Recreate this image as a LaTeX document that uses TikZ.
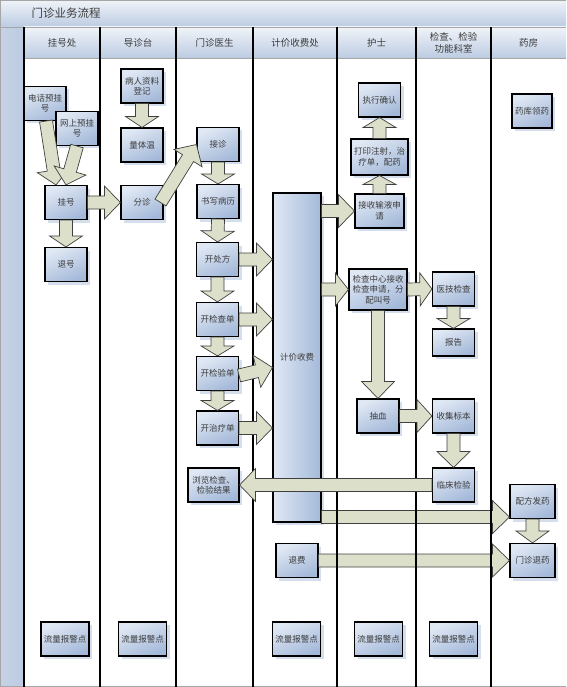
\documentclass[tikz,border=0pt]{standalone}
\usepackage{fontspec}
\setmainfont{Noto Sans CJK SC}
\usetikzlibrary{calc,shadows}

\definecolor{boxlight}{HTML}{E0E8F4}
\definecolor{boxdark}{HTML}{A4B9D9}
\definecolor{arrowfill}{HTML}{DCDFC9}
\definecolor{headlight}{HTML}{F0F4F9}
\definecolor{headdark}{HTML}{BCCBE2}
\definecolor{shadowblue}{HTML}{D5DEEC}
\definecolor{textgray}{HTML}{3C3C3C}

% block arrow: [head length]{from}{to}
\newcommand{\fatarrow}[3][15pt]{%
  \coordinate (fa-s) at (#2);
  \coordinate (fa-e) at (#3);
  \coordinate (fa-h) at ($(fa-e)!#1!(fa-s)$);
  \filldraw[fatarr] ($(fa-s)!6.5pt!90:(fa-e)$) -- ($(fa-h)!6.5pt!-90:(fa-s)$)
    -- ($(fa-h)!16.5pt!-90:(fa-s)$) -- (fa-e) -- ($(fa-h)!16.5pt!90:(fa-s)$)
    -- ($(fa-h)!6.5pt!90:(fa-s)$) -- ($(fa-s)!6.5pt!-90:(fa-e)$) -- cycle;}

\begin{document}
\begin{tikzpicture}[x=1pt,y=-1pt,
  procbox/.style={draw=black, line width=1.1pt, top color=boxlight, bottom color=boxdark,
    shading angle=25, minimum width=42pt, minimum height=34pt, inner sep=1pt, align=center,
    font=\fontsize{8.5}{10.5}\selectfont, text=textgray,
    drop shadow={shadow xshift=3pt, shadow yshift=-3pt, fill=shadowblue, opacity=1}},
  fatarr/.style={fill=arrowfill, draw=black!75, line width=0.7pt, line join=miter},
  lane/.style={draw=black, line width=1.3pt},
  headtext/.style={font=\fontsize{9.5}{11.5}\selectfont, text=textgray, align=center}]

\useasboundingbox (0,0) rectangle (566,687);

% title bar, strip and lane headers
\shade[top color=headlight, bottom color=headdark] (0,0) rectangle (566,27);
\node[anchor=west, font=\fontsize{11.5}{13}\selectfont, text=textgray] (title) at (28,13.5) {门诊业务流程};
\shade[left color=headdark!85, right color=headdark] (0,27) rectangle (24,687);
\shade[top color=headlight, bottom color=headdark] (24,27) rectangle (566,58);
\draw[gray!70, line width=0.6pt] (0,0.3) -- (566,0.3) (0,27) -- (566,27) (24,58) -- (566,58) (0,686.7) -- (566,686.7) (0.3,0) -- (0.3,687);

\node[headtext] (h-gh) at (62,43) {挂号处};
\node[headtext] (h-dz) at (138,43) {导诊台};
\node[headtext] (h-ys) at (214.5,43) {门诊医生};
\node[headtext] (h-sf) at (295,43) {计价收费处};
\node[headtext] (h-hs) at (376.5,43) {护士};
\node[headtext] (h-jc) at (453.5,43) {检查、检验\\功能科室};
\node[headtext] (h-yf) at (528.5,43) {药房};

% boxes
\node[procbox] (phone) at (45,103.5) {电话预挂\\号};
\node[procbox] (web) at (77,128.5) {网上预挂\\号};
\node[procbox] (gh) at (66,202.5) {挂号};
\node[procbox] (th) at (66,264.5) {退号};
\node[procbox] (djl) at (142,86) {病人资料\\登记};
\node[procbox] (tw) at (142,145) {量体温};
\node[procbox] (fz) at (142,202.5) {分诊};
\node[procbox] (jz) at (218,144.5) {接诊};
\node[procbox] (bl) at (218,201.5) {书写病历};
\node[procbox] (cf) at (217.5,259.5) {开处方};
\node[procbox] (jc) at (217.5,319.5) {开检查单};
\node[procbox] (jy) at (217.5,373.5) {开检验单};
\node[procbox] (zl) at (217.5,428) {开治疗单};
\node[procbox, minimum width=51pt] (ll) at (213.5,485) {浏览检查、\\检验结果};
\node[procbox, minimum width=48pt, minimum height=329pt, left color=boxlight, right color=boxdark] (sf) at (297,357.5) {计价收费};
\node[procbox] (tf) at (297,560.5) {退费};
\node[procbox] (zx) at (379.5,100) {执行确认};
\node[procbox, minimum width=57pt, minimum height=36pt] (dy) at (379.5,157) {打印注射，治\\疗单，配药};
\node[procbox, minimum width=49pt] (sy) at (379.5,211) {接收输液申\\请};
\node[procbox, minimum width=58pt, minimum height=41pt] (jczx) at (378,289.5) {检查中心接收\\检查申请，分\\配叫号};
\node[procbox] (cx) at (378,416) {抽血};
\node[procbox] (yj) at (453.5,289) {医技检查};
\node[procbox, minimum height=27pt] (bg) at (453.5,342.5) {报告};
\node[procbox] (bb) at (453.5,416) {收集标本};
\node[procbox] (lc) at (453.5,485) {临床检验};
\node[procbox, minimum width=40pt] (ykly) at (532,111) {药库领药};
\node[procbox, minimum width=45pt] (pf) at (532.5,501.5) {配方发药};
\node[procbox, minimum width=45pt] (ty) at (532.5,560.5) {门诊退药};

\foreach \x/\nm in {65/1,142.5/2,296.5/3,378.5/4,453.5/5}
  \node[procbox, minimum width=48pt] (warn-\nm) at (\x,639) {流量报警点};

% long arrows lie under the lane lines
\coordinate (pfin) at ($(pf.south west)+(0,-2)$);
\fatarrow[17pt]{sf.east |- pfin}{pfin}
\fatarrow[17pt]{tf.east}{ty.west}

\foreach \x in {24,100,176,253,337,416,491}
  \draw[lane] (\x,27) -- (\x,687);

% arrows
\fatarrow{$(phone.south)+(1,0)$}{$(gh.north)+(-10,0)$}
\fatarrow{web.south}{$(gh.north)+(0,0)$}
\fatarrow[11pt]{gh.south}{th.north}
\fatarrow[16pt]{gh.east}{fz.west}
\fatarrow[16pt]{$(fz.east)+(-3,0)$}{jz.west}
\fatarrow[11pt]{djl.south}{tw.north}
\fatarrow[10pt]{jz.south}{bl.north}
\fatarrow[11pt]{bl.south}{cf.north}
\fatarrow[11pt]{cf.south}{jc.north}
\fatarrow[10pt]{jc.south}{jy.north}
\fatarrow[10pt]{jy.south}{zl.north}
\fatarrow[16pt]{cf.east}{sf.west |- cf.east}
\fatarrow[16pt]{jc.east}{sf.west |- jc.east}
\fatarrow[16pt]{$(jy.east)+(0,2)$}{$(sf.west |- jy.east)+(0,-6)$}
\fatarrow[16pt]{zl.east}{sf.west |- zl.east}
\fatarrow[16pt]{lc.west}{ll.east}
\fatarrow[16pt]{sf.east |- sy.west}{sy.west}
\fatarrow[13pt]{sf.east |- jczx.west}{jczx.west}
\fatarrow[9pt]{sy.north}{dy.south}
\fatarrow[10pt]{dy.north}{zx.south}
\fatarrow[12pt]{jczx.east}{yj.west}
\fatarrow[10pt]{yj.south}{bg.north}
\fatarrow[17pt]{jczx.south}{cx.north}
\fatarrow[15pt]{cx.east}{bb.west}
\fatarrow[16pt]{bb.south}{lc.north}
\fatarrow[12pt]{pf.south}{ty.north}
\end{tikzpicture}
\end{document}
